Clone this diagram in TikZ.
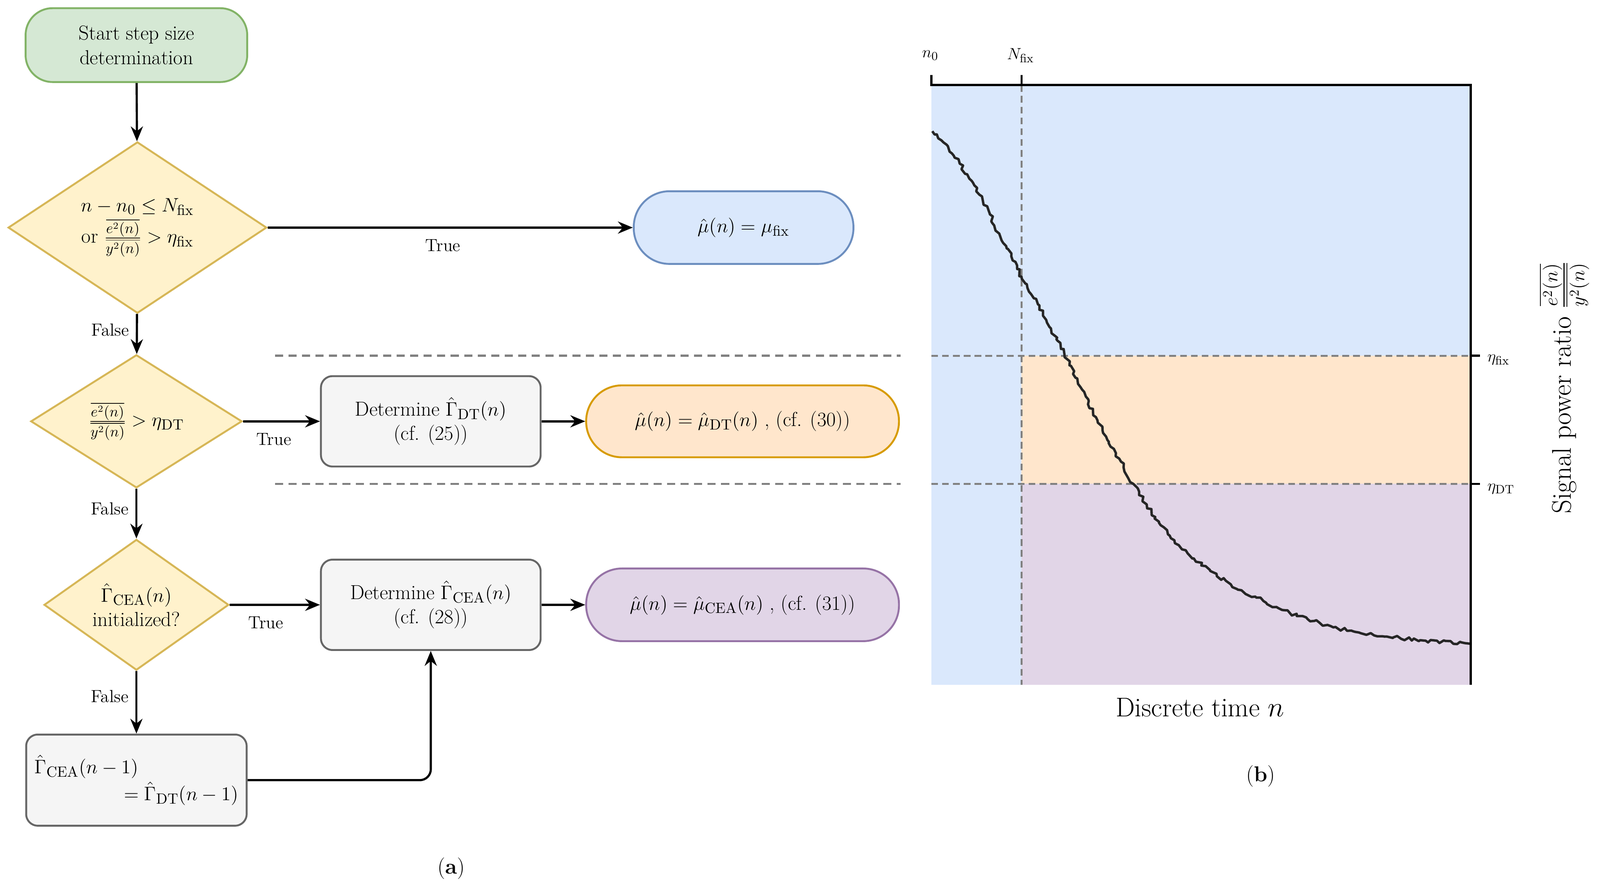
\documentclass[tikz,border=0pt]{standalone}
\usepackage{amsmath}
\usetikzlibrary{shapes.geometric,arrows.meta,decorations.pathmorphing}
\definecolor{gfill}{HTML}{D5E8D4}\definecolor{gline}{HTML}{82B366}
\definecolor{yfill}{HTML}{FFF2CC}\definecolor{yline}{HTML}{D6B656}
\definecolor{bfill}{HTML}{DAE8FC}\definecolor{bline}{HTML}{6C8EBF}
\definecolor{ofill}{HTML}{FFE6CC}\definecolor{oline}{HTML}{D79B00}
\definecolor{pfill}{HTML}{E1D5E7}\definecolor{pline}{HTML}{9673A6}
\definecolor{kfill}{HTML}{F5F5F5}\definecolor{kline}{HTML}{666666}
\definecolor{dgray}{HTML}{808080}
\begin{document}
\begin{tikzpicture}[x=0.02666cm,y=-0.02666cm,
  every node/.style={font=\fontsize{15}{18}\selectfont, inner sep=0pt},
  base/.style={draw, line width=1.4pt, align=center},
  term/.style={base, rounded corners=0.93cm},
  dia/.style={base, diamond, fill=yfill, draw=yline},
  proc/.style={base, rounded corners=0.3cm, fill=kfill, draw=kline},
  arr/.style={-{Stealth[length=11pt,width=9pt]}, line width=1.6pt},
  lab/.style={font=\fontsize{13}{15}\selectfont},
  dl/.style={dgray, line width=1.6pt, dash pattern=on 6pt off 4pt},
  pd/.style={dgray, line width=1.4pt, dash pattern=on 5pt off 3pt}]
\useasboundingbox (0,0) rectangle (1560,862);
% flowchart
\node[term, fill=gfill, draw=gline, minimum width=5.76cm, minimum height=1.92cm, rounded corners=0.7cm] (start) at (133,44) {Start step size\\determination};
\node[dia, minimum width=6.72cm, minimum height=4.0cm] (d1) at (134,222) {$n-n_0\le N_{\mathrm{fix}}$\\[2pt] or $\frac{\overline{e^2(n)}}{\overline{y^2(n)}}>\eta_{\mathrm{fix}}$};
\node[term, fill=bfill, draw=bline, minimum width=5.71cm, minimum height=1.89cm] (mfix) at (725,222) {$\hat\mu(n)=\mu_{\mathrm{fix}}$};
\node[dia, minimum width=5.49cm, minimum height=3.31cm] (d2) at (133,411) {$\frac{\overline{e^2(n)}}{\overline{y^2(n)}}>\eta_{\mathrm{DT}}$};
\node[proc, minimum width=5.71cm, minimum height=2.35cm] (pdt) at (420,411) {Determine $\hat\Gamma_{\mathrm{DT}}(n)$\\(cf. (25))};
\node[term, fill=ofill, draw=oline, minimum width=8.13cm, minimum height=1.87cm] (mdt) at (724,411) {$\hat\mu(n)=\hat\mu_{\mathrm{DT}}(n)$ , (cf. (30))};
\node[dia, minimum width=4.8cm, minimum height=2.83cm] (d3) at (133,590) {$\hat\Gamma_{\mathrm{CEA}}(n)$\\initialized?};
\node[proc, minimum width=5.71cm, minimum height=2.35cm] (pcea) at (420,590) {Determine $\hat\Gamma_{\mathrm{CEA}}(n)$\\(cf. (28))};
\node[term, fill=pfill, draw=pline, minimum width=8.13cm, minimum height=1.89cm] (mcea) at (724,590) {$\hat\mu(n)=\hat\mu_{\mathrm{CEA}}(n)$ , (cf. (31))};
\node[proc, minimum width=5.73cm, minimum height=2.37cm, text width=5.3cm, align=left] (init) at (133,761) {$\hat\Gamma_{\mathrm{CEA}}(n-1)$\\[2pt]\hfill$=\hat\Gamma_{\mathrm{DT}}(n-1)$};
\draw[arr] (start) -- (d1);
\draw[arr] (d1) -- node[lab, below=8pt, pos=0.48]{True} (mfix);
\draw[arr] (d1) -- node[lab, left=5pt, pos=0.4]{False} (d2);
\draw[arr] (d2) -- node[lab, below=8pt, pos=0.4]{True} (pdt);
\draw[arr] (pdt) -- (mdt);
\draw[arr] (d2) -- node[lab, left=5pt, pos=0.4]{False} (d3);
\draw[arr] (d3) -- node[lab, below=8pt, pos=0.4]{True} (pcea);
\draw[arr] (pcea) -- (mcea);
\draw[arr] (d3) -- node[lab, left=5pt, pos=0.4]{False} (init);
\draw[arr, rounded corners=8pt] (init.east) -- (420,761) -- (pcea.south);
\coordinate (l1a) at (268,347); \coordinate (l1b) at (878,347);
\coordinate (l2a) at (268,472); \coordinate (l2b) at (878,472);
\draw[dl] (l1a) -- (l1b); \draw[dl] (l2a) -- (l2b);
\node[font=\fontsize{16}{19}\selectfont] (capa) at (440,847) {(\textbf{a})};
% plot
\fill[bfill] (908,83) rectangle (1434,668);
\fill[ofill] (996,347) rectangle (1434,472);
\fill[pfill] (996,472) rectangle (1434,668);
\draw[pd] (996,83) -- (996,668);
\draw[pd] (908,347) -- (1434,347);
\draw[pd] (908,472) -- (1434,472);
\draw[line width=1.8pt, color=black!85, line join=round, decorate, decoration={random steps, segment length=2.5pt, amplitude=1.4pt}]
  (909,128) -- (920,139) -- (930,152) -- (943,170) -- (955,190) -- (965,209) -- (975,230) -- (986,250) -- (996,270) -- (1008,291) -- (1020,312) -- (1030,331) -- (1040,350) -- (1055,380) -- (1070,410) -- (1088,442) -- (1105,472) -- (1118,492) -- (1130,510) -- (1145,527) -- (1160,542) -- (1180,557) -- (1200,570) -- (1225,583) -- (1250,595) -- (1275,604) -- (1300,612) -- (1325,617) -- (1350,621) -- (1390,625) -- (1434,628);
\draw[line width=1.6pt] (908,73) -- (908,83) -- (1434,83) -- (1434,668);
\draw[line width=1.6pt] (996,73) -- (996,83);
\draw[line width=1.6pt] (1434,347) -- (1443,347);
\draw[line width=1.6pt] (1434,472) -- (1443,472);
\node[font=\fontsize{13}{15}\selectfont] (n0) at (907,54) {$n_0$};
\node[font=\fontsize{13}{15}\selectfont] (nf) at (995,54) {$N_{\mathrm{fix}}$};
\node[font=\fontsize{13}{15}\selectfont, anchor=west] (ef) at (1450,351) {$\eta_{\mathrm{fix}}$};
\node[font=\fontsize{13}{15}\selectfont, anchor=west] (ed) at (1450,477) {$\eta_{\mathrm{DT}}$};
\node[font=\fontsize{20}{24}\selectfont] (xl) at (1170,690) {Discrete time $n$};
\node[font=\fontsize{20}{24}\selectfont, rotate=90] (yl) at (1525,378) {Signal power ratio $\frac{\overline{e^2(n)}}{\overline{y^2(n)}}$};
\node[font=\fontsize{16}{19}\selectfont] (capb) at (1229,757) {(\textbf{b})};
\end{tikzpicture}
\end{document}
